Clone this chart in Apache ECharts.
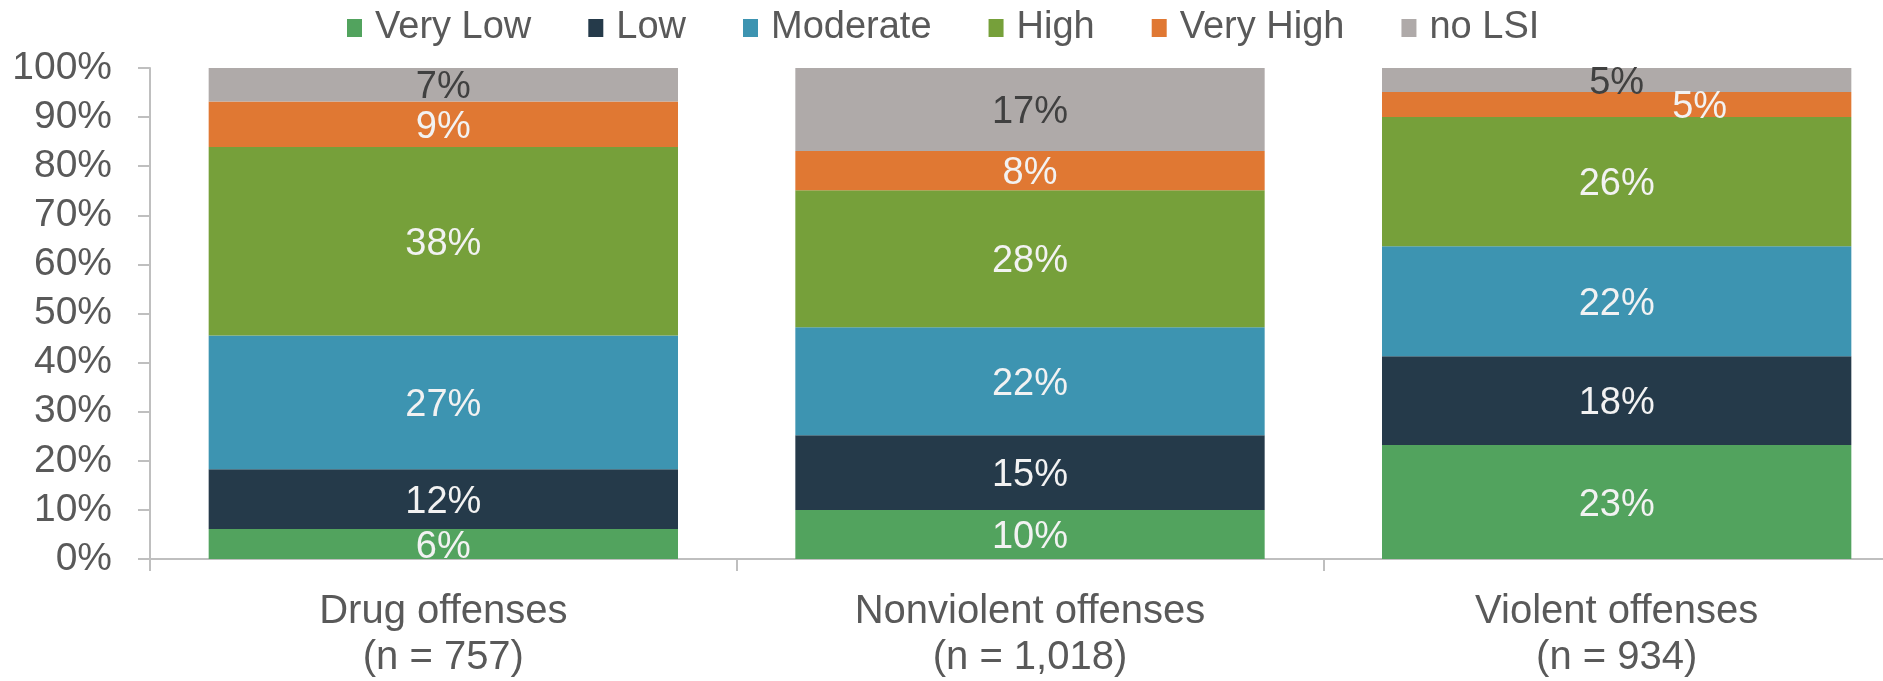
<!DOCTYPE html>
<html>
<head>
<meta charset="utf-8">
<script src="https://cdn.jsdelivr.net/npm/echarts@6/dist/echarts.min.js"></script>
<style>
  html, body { margin: 0; padding: 0; background: #fff; overflow: hidden; }
  /* the plot area runs past the right edge of the picture, so the canvas is wider than the window */
  #chart { width: 1910px; height: 681px; }
</style>
</head>
<body>
<div id="chart"></div>
<script>
// categories + sample sizes
var categories = ['Drug offenses\n(n = 757)', 'Nonviolent offenses\n(n = 1,018)', 'Violent offenses\n(n = 934)'];
var levels = ['Very Low', 'Low', 'Moderate', 'High', 'Very High', 'no LSI'];

// percent of each group
var veryLow  = [6.1, 10.0, 23.2];
var low      = [12.2, 15.2, 18.1];
var moderate = [27.2, 22.0, 22.4];
var high     = [38.4, 27.9, 26.3];
var veryHigh = [9.3, 8.0, 5.1];
var noLsi    = [6.8, 16.9, 4.9];

var yTicks = [0, 10, 20, 30, 40, 50, 60, 70, 80, 90, 100];

var values = [veryLow, low, moderate, high, veryHigh, noLsi];
var colors = ['#52a35e', '#253a4a', '#3d94b1', '#76a03a', '#e07833', '#afaaa9'];

var series = levels.map(function (name, k) {
  return {
    name: name,
    type: 'bar',
    stack: 'total',
    barCategoryGap: '20%',
    itemStyle: { color: colors[k] },
    label: {
      show: true,
      position: 'inside',
      offset: [0, 3],
      color: name === 'no LSI' ? '#404040' : '#f2f2f2',
      fontFamily: 'Liberation Sans',
      fontSize: 38,
      formatter: function (p) { return Math.round(p.value) + '%'; }
    },
    data: values[k].map(function (v, i) {
      var item = { value: v };
      // excel nudged this one sideways to avoid the grey label
      if (name === 'Very High' && i === 2) item.label = { offset: [83, 3] };
      return item;
    })
  };
});

var option = {
  animation: false,
  legend: {
    top: 4,
    left: 342,
    itemWidth: 15,
    itemHeight: 18,
    itemGap: 57,
    icon: 'rect',
    textStyle: {
      color: '#595959',
      fontFamily: 'Liberation Sans',
      fontSize: 38,
      padding: [0, 0, 0, 8]
    },
    data: levels
  },
  grid: { left: 150, right: 0, top: 68, bottom: 121, containLabel: false },
  xAxis: {
    type: 'category',
    data: categories,
    axisLine: { lineStyle: { color: '#bfbfbf', width: 2 } },
    axisTick: { show: true, length: 12, lineStyle: { color: '#bfbfbf', width: 2 } },
    axisLabel: {
      color: '#595959',
      fontFamily: 'Liberation Sans',
      fontSize: 40,
      lineHeight: 46,
      margin: 30
    }
  },
  yAxis: {
    type: 'value',
    min: yTicks[0],
    max: yTicks[yTicks.length - 1],
    interval: 10,
    axisLine: { show: true, lineStyle: { color: '#bfbfbf', width: 2 } },
    axisTick: { show: true, length: 12, lineStyle: { color: '#bfbfbf', width: 2 } },
    splitLine: { show: false },
    axisLabel: {
      color: '#595959',
      fontFamily: 'Liberation Sans',
      fontSize: 39,
      margin: 38,
      formatter: '{value}%'
    }
  },
  series: series
};

var myChart = echarts.init(document.getElementById('chart'));
myChart.setOption(option);
</script>
</body>
</html>
